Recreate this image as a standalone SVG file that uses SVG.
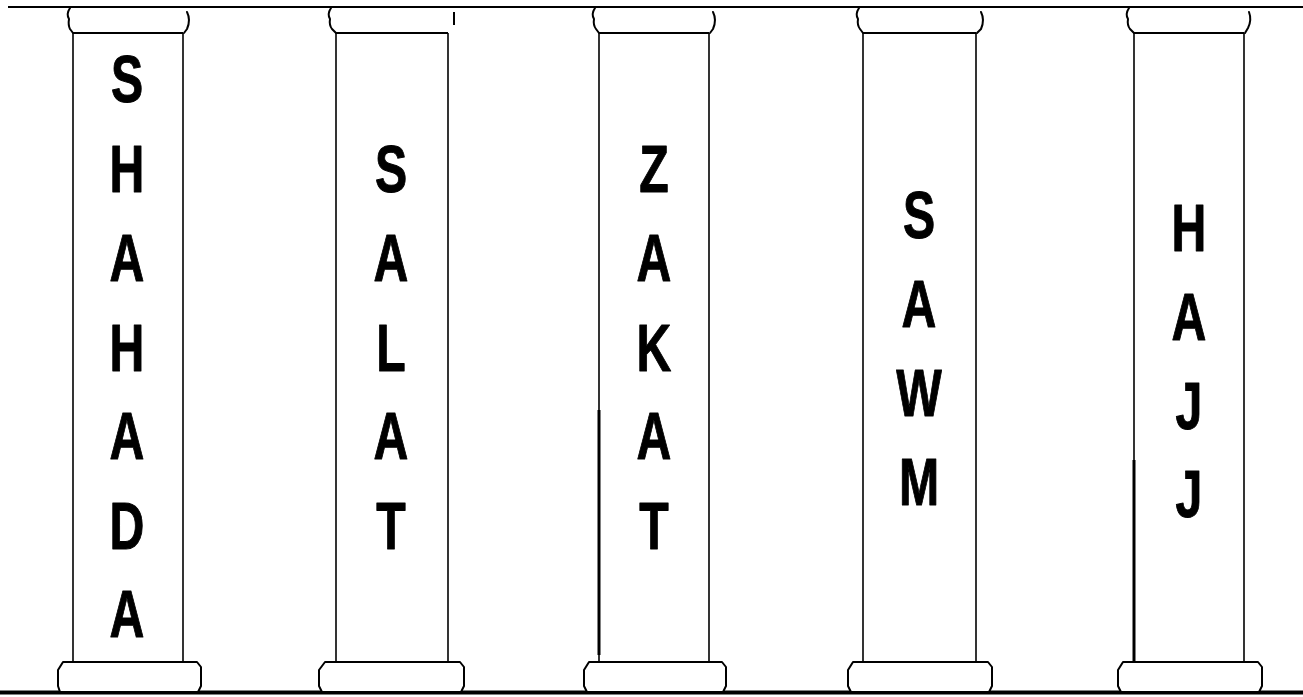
<svg xmlns="http://www.w3.org/2000/svg" width="1303" height="697" viewBox="0 0 1303 697">
<style>
.col{fill:none;stroke:#000;stroke-width:1.6}
.cap{fill:none;stroke:#000;stroke-width:2;stroke-linecap:round;stroke-linejoin:round}
.base{fill:#fff;stroke:#000;stroke-width:2;stroke-linejoin:round}
.l{font-family:"Liberation Sans","DejaVu Sans",sans-serif;font-weight:bold;font-size:67px;text-anchor:middle;fill:#000;stroke:#000;stroke-width:1;stroke-linejoin:round}
</style>
<rect x="0" y="0" width="1303" height="697" fill="#fff"/>
<g id="beams">
<line x1="8" y1="7" x2="1303" y2="7" stroke="#000" stroke-width="2.2"/>
<line x1="0" y1="692.5" x2="1303" y2="692.5" stroke="#000" stroke-width="4"/>
</g>

<g id="pillar-shahada">
<path class="cap" d="M70 8 Q66 14 69 19 Q68 25 70 29 L73 33"/>
<path class="cap" d="M187 12 Q191 20 187 29 L184 33"/>
<line x1="73" y1="33" x2="183" y2="33" stroke="#000" stroke-width="2.2"/>
<line class="col" x1="73" y1="33" x2="73" y2="662"/>
<line class="col" x1="183" y1="33" x2="183" y2="662"/>
<path class="base" d="M63 662 L197 662 L201 667 L201 686 L198 692 L60 692 L58 686 L58 670 Z"/>
<text class="l" transform="translate(127,102) scale(0.72,1)">S</text>
<text class="l" transform="translate(127,192) scale(0.72,1)">H</text>
<text class="l" transform="translate(127,281) scale(0.72,1)">A</text>
<text class="l" transform="translate(127,371) scale(0.72,1)">H</text>
<text class="l" transform="translate(127,459) scale(0.72,1)">A</text>
<text class="l" transform="translate(127,549) scale(0.72,1)">D</text>
<text class="l" transform="translate(127,637) scale(0.72,1)">A</text>
</g>

<g id="pillar-salat">
<path class="cap" d="M331 8 Q327 14 330 19 Q329 25 332 29 L336 33"/>
<line x1="454" y1="12" x2="454" y2="25" stroke="#000" stroke-width="2"/>
<line x1="336" y1="33" x2="448" y2="33" stroke="#000" stroke-width="2.2"/>
<line class="col" x1="336" y1="33" x2="336" y2="662"/>
<line class="col" x1="448" y1="33" x2="448" y2="662"/>
<path class="base" d="M325 662 L460 662 L464 667 L464 686 L461 692 L322 692 L319 686 L319 670 Z"/>
<text class="l" transform="translate(391,192) scale(0.72,1)">S</text>
<text class="l" transform="translate(391,281) scale(0.72,1)">A</text>
<text class="l" transform="translate(391,371) scale(0.72,1)">L</text>
<text class="l" transform="translate(391,459) scale(0.72,1)">A</text>
<text class="l" transform="translate(391,549) scale(0.72,1)">T</text>
</g>

<g id="pillar-zakat">
<path class="cap" d="M595 8 Q591 14 594 19 Q593 25 596 29 L599 33"/>
<path class="cap" d="M713 12 Q717 20 713 29 L710 33"/>
<line x1="599" y1="33" x2="709" y2="33" stroke="#000" stroke-width="2.2"/>
<line class="col" x1="599" y1="33" x2="599" y2="662"/>
<line x1="599" y1="410" x2="599" y2="655" stroke="#000" stroke-width="3"/>
<line class="col" x1="709" y1="33" x2="709" y2="662"/>
<path class="base" d="M589 662 L722 662 L726 667 L726 686 L723 692 L587 692 L584 686 L584 670 Z"/>
<text class="l" transform="translate(654,192) scale(0.72,1)">Z</text>
<text class="l" transform="translate(654,281) scale(0.72,1)">A</text>
<text class="l" transform="translate(654,371) scale(0.72,1)">K</text>
<text class="l" transform="translate(654,459) scale(0.72,1)">A</text>
<text class="l" transform="translate(654,549) scale(0.72,1)">T</text>
</g>

<g id="pillar-sawm">
<path class="cap" d="M859 8 Q855 14 858 19 Q857 25 860 29 L863 33"/>
<path class="cap" d="M981 12 Q985 20 981 29 L977 33"/>
<line x1="863" y1="33" x2="976" y2="33" stroke="#000" stroke-width="2.2"/>
<line class="col" x1="863" y1="33" x2="863" y2="662"/>
<line class="col" x1="976" y1="33" x2="976" y2="662"/>
<path class="base" d="M853 662 L988 662 L992 667 L992 686 L989 692 L851 692 L848 686 L848 670 Z"/>
<text class="l" transform="translate(919,238) scale(0.72,1)">S</text>
<text class="l" transform="translate(919,327) scale(0.72,1)">A</text>
<text class="l" transform="translate(919,416) scale(0.72,1)">W</text>
<text class="l" transform="translate(919,505) scale(0.72,1)">M</text>
</g>

<g id="pillar-hajj">
<path class="cap" d="M1129 8 Q1125 14 1128 19 Q1127 25 1130 29 L1134 33"/>
<path class="cap" d="M1249 12 Q1252 20 1248 28 L1245 33"/>
<line x1="1134" y1="33" x2="1244" y2="33" stroke="#000" stroke-width="2.2"/>
<line class="col" x1="1134" y1="33" x2="1134" y2="662"/>
<line x1="1134" y1="460" x2="1134" y2="662" stroke="#000" stroke-width="3"/>
<line class="col" x1="1244" y1="33" x2="1244" y2="662"/>
<path class="base" d="M1123 662 L1258 662 L1262 667 L1262 686 L1259 692 L1121 692 L1118 686 L1118 670 Z"/>
<text class="l" transform="translate(1189,251) scale(0.72,1)">H</text>
<text class="l" transform="translate(1189,340) scale(0.72,1)">A</text>
<text class="l" transform="translate(1189,429) scale(0.72,1)">J</text>
<text class="l" transform="translate(1189,517) scale(0.72,1)">J</text>
</g>
</svg>
